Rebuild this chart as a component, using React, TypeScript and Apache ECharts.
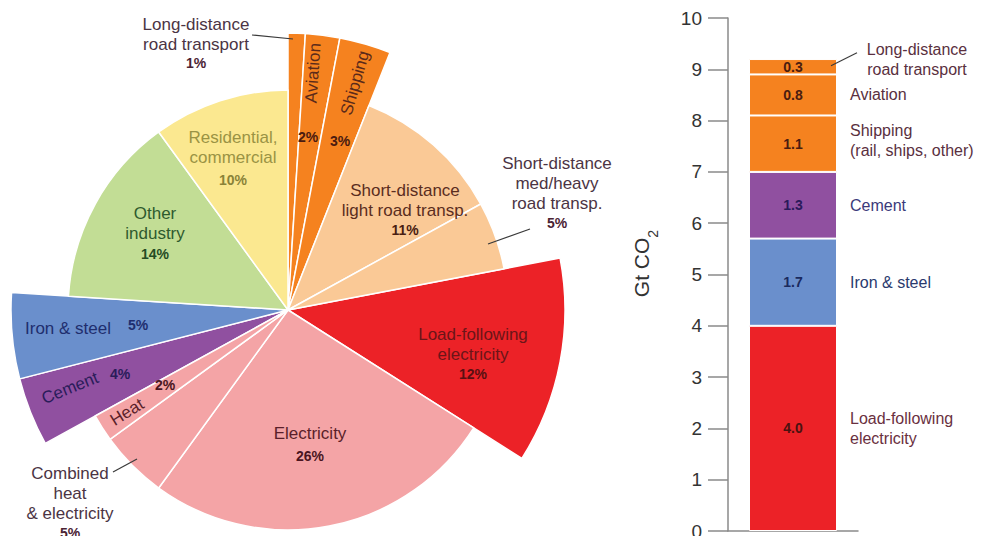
import React, { useEffect, useRef } from 'react';
import * as echarts from 'echarts';

// ---------- DATA ----------
const pieCategories = [
  'Long-distance\nroad transport',
  'Aviation',
  'Shipping',
  'Short-distance\nlight road transp.',
  'Short-distance\nmed/heavy\nroad transp.',
  'Load-following\nelectricity',
  'Electricity',
  'Combined\nheat\n& electricity',
  'Heat',
  'Cement',
  'Iron & steel',
  'Other\nindustry',
  'Residential,\ncommercial',
];
const pieShares = [1, 2, 3, 11, 5, 12, 26, 5, 2, 4, 5, 14, 10];
const pieHighlighted = [true, true, true, false, false, true, false, false, false, true, true, false, false];

const barCategories = [
  'Load-following\nelectricity',
  'Iron & steel',
  'Cement',
  'Shipping\n(rail, ships, other)',
  'Aviation',
  'Long-distance\nroad transport',
];
const barValues = [4.0, 1.7, 1.3, 1.1, 0.8, 0.3];
const yAxisMin = 0;
const yAxisMax = 10;
const yAxisStep = 1;

// ---------- STYLES ----------
const ORANGE = '#f5821f';
const PEACH = '#fac996';
const RED = '#ec2227';
const PINK = '#f4a4a6';
const PURPLE = '#9050a0';
const BLUE = '#6a8fcc';
const GREEN = '#c2dd95';
const YELLOW = '#fbe890';

const pieColors = [ORANGE, ORANGE, ORANGE, PEACH, PEACH, RED, PINK, PINK, PINK, PURPLE, BLUE, GREEN, YELLOW];
const barColors = [RED, BLUE, PURPLE, ORANGE, ORANGE, ORANGE];
const barValueColors = ['#4a1210', '#1a2a5e', '#2a1a5a', '#4a1c10', '#4a1c10', '#4a1c10'];
const barNameColors = ['#6a3040', '#2a3a6e', '#3b3a7a', '#5a3040', '#5a3040', '#5a3040'];

const FONT = '"Liberation Sans", Arial, Helvetica, sans-serif';
const PIE_CENTER = [288, 310];
const R_BASE = 220;
const R_BIG = 277;

// label layout for pie (name position, pct position, rotation deg, colours)
const pieLabelLayout = [
  { nx: 196, ny: 34, px: 196, py: 63, rot: 0, nc: '#4b3444', pc: '#4b2434' },
  { nx: 313, ny: 73, px: 308, py: 137, rot: 86, nc: '#5b2a1a', pc: '#4a1a10' },
  { nx: 355, ny: 83, px: 340, py: 141, rot: 74, nc: '#5b2a1a', pc: '#4a1a10' },
  { nx: 405, ny: 200, px: 405, py: 230, rot: 0, nc: '#5a2d1e', pc: '#4a1e12' },
  { nx: 557, ny: 183, px: 557, py: 223, rot: 0, nc: '#4b3444', pc: '#4b2434' },
  { nx: 473, ny: 344, px: 473, py: 374, rot: 0, nc: '#6b1518', pc: '#5a1012' },
  { nx: 310, ny: 433, px: 310, py: 456, rot: 0, nc: '#5a1f2a', pc: '#4a1420' },
  { nx: 70, ny: 493, px: 70, py: 533, rot: 0, nc: '#4b3444', pc: '#4b2434' },
  { nx: 127, ny: 412, px: 165, py: 385, rot: 32, nc: '#5a1f2a', pc: '#4a1420' },
  { nx: 70, ny: 388, px: 120, py: 374, rot: 22, nc: '#2a1c5a', pc: '#2a1c5a' },
  { nx: 68, ny: 328, px: 138, py: 325, rot: 0, nc: '#1f2e6e', pc: '#1f2e6e' },
  { nx: 155, ny: 223, px: 155, py: 254, rot: 0, nc: '#2e5a2e', pc: '#244a24' },
  { nx: 233, ny: 147, px: 233, py: 180, rot: 0, nc: '#9a9344', pc: '#8a8338' },
];

const pieLeaders = [
  [252, 35, 293, 39],
  [530, 229, 488, 244],
  [113, 472, 137, 459],
];

export default function App() {
  const ref = useRef<HTMLDivElement>(null);

  useEffect(() => {
    if (!ref.current) return;
    const chart = echarts.init(ref.current, null, { renderer: 'svg' });

    const hidden = { color: 'rgba(0,0,0,0)', borderWidth: 0 };
    const bigData = pieCategories.map((name, i) => ({
      name,
      value: pieShares[i],
      itemStyle: pieHighlighted[i]
        ? { color: pieColors[i], borderColor: '#fff', borderWidth: 1.5 }
        : hidden,
    }));
    const baseData = pieCategories.map((name, i) => ({
      name,
      value: pieShares[i],
      itemStyle: pieHighlighted[i]
        ? hidden
        : { color: pieColors[i], borderColor: '#fff', borderWidth: 1.5 },
    }));

    const barSeries = barCategories.map((name, i) => ({
      name,
      type: 'bar',
      stack: 'total',
      barWidth: 88,
      data: [barValues[i]],
      itemStyle: { color: barColors[i], borderColor: '#fff', borderWidth: 1 },
      label: {
        show: true,
        position: 'inside',
        formatter: (p: any) => Number(p.value).toFixed(1),
        fontFamily: FONT,
        fontWeight: 'bold',
        fontSize: 14,
        color: barValueColors[i],
      },
      emphasis: { disabled: true },
      silent: true,
    }));

    const pieCommon = {
      type: 'pie',
      center: PIE_CENTER,
      startAngle: 90,
      clockwise: true,
      label: { show: false },
      labelLine: { show: false },
      emphasis: { disabled: true },
      silent: true,
    };

    const baseOption: any = {
      animation: false,
      backgroundColor: '#fff',
      grid: {
        left: 728,
        right: 126,
        top: 18,
        bottom: 5,
        containLabel: false,
        outerBoundsMode: 'none',
      },
      xAxis: {
        type: 'category',
        data: ['total'],
        axisLine: { show: true, lineStyle: { color: '#8a8a8a', width: 1.5 } },
        axisTick: { show: false },
        axisLabel: { show: false },
        splitLine: { show: false },
      },
      yAxis: {
        type: 'value',
        min: yAxisMin,
        max: yAxisMax,
        interval: yAxisStep,
        axisLine: { show: true, lineStyle: { color: '#8a8a8a', width: 1.5 } },
        axisTick: { show: true, length: 20, inside: false, lineStyle: { color: '#8a8a8a', width: 1.5 } },
        axisLabel: { fontFamily: FONT, fontSize: 19, color: '#333', margin: 26 },
        splitLine: { show: false },
        name: '{a|Gt CO}{b|2}',
        nameLocation: 'middle',
        nameGap: 68,
        nameRotate: 90,
        nameTextStyle: {
          fontFamily: FONT,
          color: '#333',
          padding: [0, 0, 0, 22],
          rich: {
            a: { fontFamily: FONT, fontSize: 21, color: '#333', lineHeight: 28 },
            b: { fontFamily: FONT, fontSize: 14, color: '#333', lineHeight: 37, verticalAlign: 'bottom' },
          },
        },
      },
      series: [
        { ...pieCommon, radius: [0, R_BIG], data: bigData },
        { ...pieCommon, radius: [0, R_BASE], data: baseData },
        ...barSeries,
      ],
    };
    chart.setOption(baseOption);

    // --- graphic labels ---
    const graphics: any[] = [];
    pieCategories.forEach((name, i) => {
      const L = pieLabelLayout[i];
      graphics.push({
        type: 'text',
        x: L.nx,
        y: L.ny,
        rotation: (L.rot * Math.PI) / 180,
        z: 100,
        silent: true,
        style: {
          text: name,
          font: `17px ${FONT}`,
          fill: L.nc,
          align: 'center',
          verticalAlign: 'middle',
          lineHeight: 20,
        },
      });
      graphics.push({
        type: 'text',
        x: L.px,
        y: L.py,
        z: 100,
        silent: true,
        style: {
          text: `${pieShares[i]}%`,
          font: `bold 14px ${FONT}`,
          fill: L.pc,
          align: 'center',
          verticalAlign: 'middle',
        },
      });
    });
    pieLeaders.forEach(([x1, y1, x2, y2]) => {
      graphics.push({
        type: 'line',
        z: 100,
        silent: true,
        shape: { x1, y1, x2, y2 },
        style: { stroke: '#3a3a3a', lineWidth: 1.2 },
      });
    });

    // bar name labels positioned from axis conversion
    let cum = 0;
    barCategories.forEach((name, i) => {
      const mid = cum + barValues[i] / 2;
      cum += barValues[i];
      const p = chart.convertToPixel({ xAxisIndex: 0, yAxisIndex: 0 }, [0, mid]) as number[];
      const barRight = p[0] + 44;
      const isTop = i === barCategories.length - 1;
      if (isTop) {
        graphics.push({
          type: 'text',
          x: barRight + 80,
          y: p[1] - 7,
          z: 100,
          silent: true,
          style: {
            text: name,
            font: `16px ${FONT}`,
            fill: barNameColors[i],
            align: 'center',
            verticalAlign: 'middle',
            lineHeight: 20,
          },
        });
        graphics.push({
          type: 'line',
          z: 100,
          silent: true,
          shape: { x1: barRight - 6, y1: p[1] - 1, x2: barRight + 20, y2: p[1] - 14 },
          style: { stroke: '#3a3a3a', lineWidth: 1.2 },
        });
      } else {
        graphics.push({
          type: 'text',
          x: barRight + 13,
          y: p[1] - (i === 3 ? 3 : 0),
          z: 100,
          silent: true,
          style: {
            text: name,
            font: `16px ${FONT}`,
            fill: barNameColors[i],
            align: 'left',
            verticalAlign: 'middle',
            lineHeight: 20,
          },
        });
      }
    });

    chart.setOption({ graphic: { elements: graphics } });

    return () => {
      chart.dispose();
    };
  }, []);

  return (
    <div
      ref={ref}
      style={{ position: 'fixed', left: 0, top: 0, width: 984, height: 536, background: '#fff' }}
    />
  );
}
